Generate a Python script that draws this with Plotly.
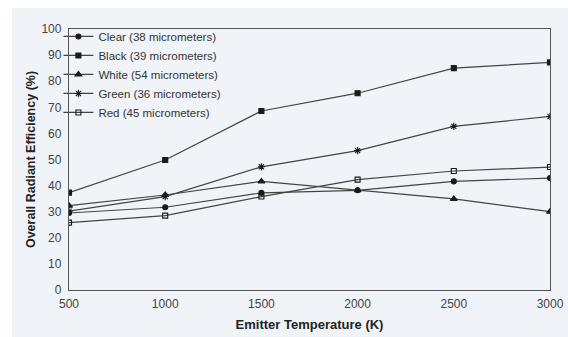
import plotly.graph_objects as go

# Emitter temperatures (K)
temperatures = [500, 1000, 1500, 2000, 2500, 3000]

# Overall radiant efficiency (%) per coating
clear_eff = [29.5, 31.7, 37.2, 38.2, 41.6, 42.9]
black_eff = [37.3, 49.8, 68.6, 75.4, 85.0, 87.2]
white_eff = [32.3, 36.4, 41.6, 38.2, 34.9, 30.0]
green_eff = [30.2, 35.8, 47.2, 53.4, 62.7, 66.5]
red_eff = [25.8, 28.5, 35.8, 42.3, 45.6, 47.1]

series_names = [
    "Clear (38 micrometers)",
    "Black (39 micrometers)",
    "White (54 micrometers)",
    "Green (36 micrometers)",
    "Red (45 micrometers)",
]
series_values = [clear_eff, black_eff, white_eff, green_eff, red_eff]
series_symbols = ["circle", "square", "triangle-up", "asterisk-open", "square-open"]
series_sizes = [5, 5, 6, 6, 5]

y_ticks = list(range(0, 101, 10))
x_ticks = temperatures

BG = "#f0f4f8"
INK = "#333333"

fig = go.Figure()
for name, vals, sym, size in zip(series_names, series_values, series_symbols, series_sizes):
    fig.add_trace(go.Scatter(
        x=temperatures, y=vals, name=name, mode="lines+markers",
        line=dict(color="#444444", width=1.2),
        marker=dict(symbol=sym, size=size, color="#1a1a1a",
                    line=dict(color="#1a1a1a", width=1.1)),
    ))

fig.update_layout(
    width=568, height=337,
    margin=dict(l=69, r=18, t=29, b=47, autoexpand=False),
    paper_bgcolor=BG, plot_bgcolor=BG,
    font=dict(family="Arial, Liberation Sans, sans-serif", size=12, color=INK),
    showlegend=True,
    legend=dict(
        x=-0.022, y=1.027, xanchor="left", yanchor="top",
        bgcolor="rgba(0,0,0,0)", borderwidth=0,
        font=dict(size=11.5, color=INK), tracegroupgap=0,
    ),
    xaxis=dict(
        range=[500, 3000], tickvals=x_ticks, ticktext=[str(t) for t in x_ticks],
        showgrid=False, zeroline=False, showline=True, linecolor="#555555",
        linewidth=1.3, mirror=True, ticks="outside", ticklen=2, tickcolor=BG,
        automargin=False, tickfont=dict(size=12, color="#444444"),
        title=dict(text="<b>Emitter Temperature (K)</b>", font=dict(size=13, color="#222222"), standoff=10),
    ),
    yaxis=dict(
        range=[0, 100], tickvals=y_ticks, ticktext=[str(t) for t in y_ticks],
        showgrid=False, zeroline=False, showline=True, linecolor="#555555",
        linewidth=1.3, mirror=True, ticks="outside", ticklen=4, tickcolor=BG,
        automargin=False, tickfont=dict(size=12, color="#444444"),
        title=dict(text="<b>Overall Radiant Efficiency (%)</b>", font=dict(size=12.5, color="#222222"), standoff=3),
    ),
    shapes=[
        # white page margin on the left and top edges
        dict(type="rect", xref="paper", yref="paper", x0=-69 / 481, x1=-57 / 481,
             y0=-47 / 261, y1=(261 + 29) / 261, fillcolor="white", line_width=0, layer="above"),
        dict(type="rect", xref="paper", yref="paper", x0=-69 / 481, x1=(481 + 18) / 481,
             y0=(261 + 21) / 261, y1=(261 + 29) / 261, fillcolor="white", line_width=0, layer="above"),
    ],
)

fig.write_html("out.html")
